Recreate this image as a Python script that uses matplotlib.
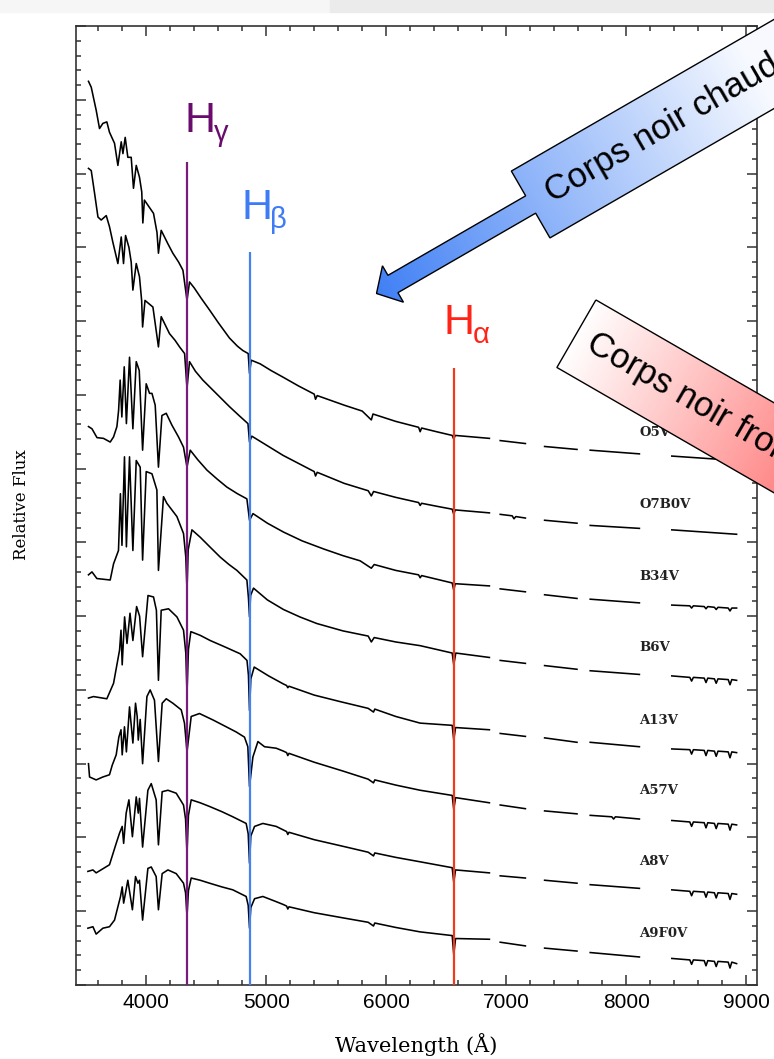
import numpy as np
import matplotlib
matplotlib.use('Agg')
import matplotlib.pyplot as plt
from matplotlib.patches import Polygon, Rectangle
from matplotlib.ticker import MultipleLocator

nan = np.nan

# Stellar spectra, stacked with offsets: (wavelength [A], relative flux).
# nan entries mark the masked telluric bands between the dashes.
O5V = [(3519, 12.25), (3542, 12.17), (3583, 11.86), (3611, 11.61), (3639, 11.68),
       (3672, 11.70), (3694, 11.56), (3736, 11.41), (3764, 11.11), (3792, 11.43),
       (3806, 11.27), (3825, 11.49), (3847, 11.22), (3875, 11.22), (3894, 10.80),
       (3917, 11.11), (3944, 10.95), (3963, 10.75), (3972, 10.33), (3985, 10.64),
       (4061, 10.46), (4090, 10.20), (4102, 9.92), (4125, 10.23), (4180, 10.05),
       (4222, 9.92), (4270, 9.80), (4306, 9.69), (4340, 9.28), (4361, 9.53),
       (4400, 9.45), (4458, 9.31), (4528, 9.15), (4600, 8.98), (4694, 8.77),
       (4760, 8.66), (4806, 8.60), (4850, 8.56), (4861, 8.29), (4875, 8.47),
       (4950, 8.42), (5040, 8.33), (5140, 8.24), (5270, 8.12), (5400, 8.01),
       (5411, 7.94), (5425, 7.99), (5650, 7.86), (5800, 7.78), (5876, 7.66),
       (5890, 7.74), (6080, 7.64), (6270, 7.56), (6283, 7.50), (6295, 7.55),
       (6420, 7.50), (6550, 7.45), (6563, 7.40), (6575, 7.45), (6860, 7.41),
       (6905, nan), (6950, 7.38), (7160, 7.34), (7240, nan), (7320, 7.30),
       (7590, 7.26), (7645, nan), (7700, 7.25), (8110, 7.20), (8245, nan),
       (8380, 7.17), (8920, 7.11)]

O7B0V = [(3519, 11.07), (3542, 11.04), (3570, 10.73), (3598, 10.41), (3625, 10.37),
         (3667, 10.43), (3694, 10.28), (3722, 10.07), (3764, 9.78), (3792, 10.14),
         (3811, 9.78), (3828, 10.16), (3856, 10.00), (3875, 9.80), (3889, 9.42),
         (3917, 9.78), (3944, 9.60), (3962, 9.28), (3970, 8.92), (3990, 9.28),
         (4056, 9.19), (4102, 8.65), (4125, 9.06), (4194, 8.83), (4240, 8.74),
         (4278, 8.65), (4320, 8.56), (4340, 8.09), (4361, 8.45), (4410, 8.32),
         (4472, 8.20), (4583, 8.02), (4694, 7.84), (4780, 7.71), (4848, 7.61),
         (4861, 7.36), (4880, 7.44), (4970, 7.35), (5060, 7.26), (5140, 7.18),
         (5270, 7.07), (5400, 6.96), (5411, 6.90), (5425, 6.95), (5650, 6.80),
         (5850, 6.70), (5876, 6.63), (5895, 6.69), (6080, 6.61), (6270, 6.54),
         (6283, 6.50), (6295, 6.53), (6420, 6.49), (6550, 6.45), (6563, 6.38),
         (6575, 6.44), (6860, 6.40),
         (6905, nan), (6950, 6.38), (7050, 6.36), (7065, 6.32), (7080, 6.35),
         (7160, 6.33), (7240, nan), (7320, 6.30), (7590, 6.26), (7645, nan),
         (7700, 6.23), (8110, 6.19), (8245, nan), (8380, 6.17), (8920, 6.11)]

B34V = [(3519, 7.57), (3548, 7.54), (3590, 7.42), (3644, 7.41), (3700, 7.36),
        (3728, 7.43), (3756, 7.57), (3770, 7.79), (3783, 8.20), (3797, 7.70),
        (3817, 8.38), (3835, 7.61), (3861, 8.51), (3889, 7.54), (3917, 8.45),
        (3942, 8.33), (3970, 7.25), (4000, 8.15), (4028, 8.02), (4048, 8.02),
        (4075, 7.86), (4102, 7.02), (4131, 7.72), (4167, 7.75), (4214, 7.59),
        (4269, 7.43), (4311, 7.29), (4340, 7.02), (4367, 7.25), (4430, 7.12),
        (4506, 6.98), (4590, 6.86), (4672, 6.75), (4760, 6.66), (4839, 6.59),
        (4861, 6.30), (4890, 6.39), (5010, 6.26), (5144, 6.14), (5300, 6.02),
        (5480, 5.91), (5640, 5.82), (5783, 5.75), (5876, 5.65), (5900, 5.70),
        (6080, 5.62), (6270, 5.56), (6283, 5.52), (6295, 5.55), (6550, 5.45),
        (6563, 5.35), (6575, 5.44), (6860, 5.41),
        (6905, nan), (6950, 5.37), (7160, 5.33), (7240, nan), (7320, 5.29),
        (7590, 5.24), (7645, nan), (7700, 5.23), (8110, 5.18), (8245, nan),
        (8380, 5.15), (8530, 5.14), (8545, 5.11), (8560, 5.14), (8650, 5.13),
        (8665, 5.10), (8680, 5.13), (8735, 5.12), (8750, 5.09), (8765, 5.12),
        (8850, 5.11), (8865, 5.07), (8880, 5.11), (8920, 5.11)]

B6V = [(3519, 5.56), (3548, 5.60), (3589, 5.51), (3700, 5.49), (3728, 5.71),
       (3769, 5.89), (3785, 6.66), (3798, 5.96), (3819, 7.16), (3835, 5.94),
       (3861, 7.16), (3889, 5.89), (3917, 7.11), (3950, 7.02), (3970, 5.76),
       (4000, 6.96), (4048, 6.93), (4089, 6.71), (4102, 5.62), (4144, 6.62),
       (4172, 6.53), (4256, 6.35), (4311, 6.12), (4330, 5.80), (4340, 5.35),
       (4350, 5.90), (4381, 6.17), (4450, 6.07), (4530, 5.94), (4617, 5.80),
       (4690, 5.70), (4756, 5.62), (4839, 5.49), (4852, 5.25), (4861, 4.99),
       (4870, 5.28), (4894, 5.38), (5010, 5.22), (5144, 5.09), (5280, 4.99),
       (5422, 4.90), (5640, 4.80), (5850, 4.73), (5876, 4.65), (5900, 4.71),
       (6080, 4.65), (6283, 4.60), (6550, 4.50), (6563, 4.34), (6580, 4.50),
       (6860, 4.44),
       (6905, nan), (6950, 4.40), (7160, 4.36), (7240, nan), (7320, 4.33),
       (7590, 4.28), (7645, nan), (7700, 4.26), (8110, 4.21), (8245, nan),
       (8380, 4.19), (8530, 4.17), (8545, 4.12), (8560, 4.17), (8650, 4.16),
       (8665, 4.10), (8680, 4.16), (8735, 4.15), (8750, 4.09), (8765, 4.15),
       (8850, 4.14), (8865, 4.07), (8880, 4.14), (8920, 4.13)]

A13V = [(3519, 3.89), (3561, 3.91), (3672, 3.88), (3728, 4.09), (3778, 4.54),
        (3790, 4.81), (3800, 4.34), (3820, 4.99), (3840, 4.63), (3865, 5.04),
        (3889, 4.67), (3920, 5.13), (3945, 5.00), (3970, 4.45), (4015, 5.28),
        (4061, 5.26), (4085, 5.08), (4102, 4.13), (4125, 5.08), (4186, 5.10),
        (4256, 4.99), (4311, 4.81), (4330, 4.50), (4340, 3.95), (4352, 4.55),
        (4372, 4.79), (4450, 4.74), (4533, 4.67), (4660, 4.58), (4783, 4.49),
        (4840, 4.40), (4852, 4.20), (4861, 3.72), (4872, 4.15), (4900, 4.31),
        (5020, 4.19), (5144, 4.08), (5170, 4.06), (5180, 4.03), (5190, 4.05),
        (5400, 3.93), (5620, 3.84), (5850, 3.75), (5894, 3.70), (5905, 3.74),
        (6080, 3.64), (6283, 3.55), (6550, 3.52), (6563, 3.32), (6578, 3.49),
        (6860, 3.46), (6905, nan), (6950, 3.41), (7160, 3.37), (7240, nan),
        (7320, 3.35), (7590, 3.29), (7645, nan), (7700, 3.29), (8110, 3.23),
        (8245, nan), (8380, 3.20), (8530, 3.19), (8545, 3.13), (8560, 3.19),
        (8650, 3.18), (8665, 3.11), (8680, 3.18), (8735, 3.17), (8750, 3.10),
        (8765, 3.17), (8850, 3.16), (8865, 3.08), (8880, 3.16), (8920, 3.15)]

A57V = [(3519, 3.00), (3528, 2.82), (3583, 2.78), (3639, 2.82), (3694, 2.85),
        (3717, 2.98), (3750, 3.12), (3772, 3.36), (3790, 3.46), (3800, 3.12),
        (3819, 3.50), (3835, 3.16), (3861, 3.77), (3889, 3.28), (3911, 3.82),
        (3925, 3.64), (3934, 3.32), (3950, 3.60), (3970, 3.00), (4006, 3.91),
        (4033, 4.00), (4069, 3.86), (4102, 3.03), (4133, 3.82), (4167, 3.88),
        (4222, 3.82), (4292, 3.73), (4319, 3.55), (4340, 3.16), (4375, 3.64),
        (4444, 3.68), (4560, 3.59), (4667, 3.50), (4750, 3.43), (4819, 3.36),
        (4847, 3.23), (4861, 2.69), (4889, 3.09), (4931, 3.30), (4986, 3.23),
        (5083, 3.21), (5144, 3.17), (5170, 3.15), (5180, 3.11), (5190, 3.14),
        (5400, 3.02), (5640, 2.90), (5850, 2.79), (5894, 2.74), (5905, 2.78),
        (6080, 2.71), (6283, 2.64), (6550, 2.57), (6563, 2.38), (6578, 2.54),
        (6860, 2.47), (6905, nan), (6950, 2.44), (7160, 2.39), (7240, nan),
        (7320, 2.36), (7590, 2.32), (7645, nan), (7700, 2.30), (7880, 2.28),
        (7895, 2.25), (7910, 2.28), (8110, 2.25), (8245, nan), (8380, 2.23),
        (8530, 2.21), (8545, 2.15), (8560, 2.21), (8650, 2.20), (8665, 2.13),
        (8680, 2.20), (8735, 2.19), (8750, 2.12), (8765, 2.19), (8850, 2.18),
        (8865, 2.10), (8880, 2.18), (8920, 2.17)]

A8V = [(3514, 1.54), (3556, 1.56), (3583, 1.52), (3694, 1.63), (3750, 1.92),
       (3778, 2.06), (3800, 2.15), (3812, 1.92), (3833, 2.33), (3856, 2.51),
       (3885, 2.01), (3917, 2.55), (3934, 2.33), (3944, 2.53), (3970, 1.87),
       (4014, 2.64), (4042, 2.73), (4083, 2.51), (4102, 1.90), (4133, 2.62),
       (4181, 2.64), (4250, 2.60), (4311, 2.44), (4328, 2.25), (4340, 1.78),
       (4352, 2.30), (4375, 2.51), (4450, 2.47), (4528, 2.42), (4630, 2.35),
       (4722, 2.28), (4833, 2.19), (4850, 2.05), (4861, 1.65), (4872, 2.02),
       (4903, 2.15), (4972, 2.19), (5083, 2.15), (5170, 2.08), (5180, 2.04),
       (5190, 2.07), (5400, 1.97), (5640, 1.88), (5850, 1.80), (5894, 1.75),
       (5905, 1.79), (6080, 1.73), (6283, 1.67), (6550, 1.59), (6563, 1.39),
       (6578, 1.56), (6860, 1.52), (6905, nan), (6950, 1.48), (7160, 1.45),
       (7240, nan), (7320, 1.42), (7590, 1.38), (7645, nan), (7700, 1.36),
       (8110, 1.31), (8245, nan), (8380, 1.29), (8530, 1.27), (8545, 1.21),
       (8560, 1.27), (8650, 1.26), (8665, 1.19), (8680, 1.26), (8735, 1.25),
       (8750, 1.18), (8765, 1.25), (8850, 1.24), (8865, 1.16), (8880, 1.24),
       (8920, 1.23)]

A9F0V = [(3514, 0.77), (3556, 0.79), (3583, 0.69), (3639, 0.77), (3694, 0.79),
         (3736, 0.88), (3764, 1.06), (3786, 1.20), (3800, 1.33), (3812, 1.11),
         (3847, 1.42), (3885, 1.02), (3911, 1.47), (3931, 1.38), (3944, 1.42),
         (3970, 0.88), (4014, 1.58), (4042, 1.60), (4083, 1.47), (4102, 1.02),
         (4133, 1.51), (4181, 1.56), (4250, 1.51), (4311, 1.38), (4328, 1.25),
         (4340, 0.93), (4352, 1.28), (4375, 1.45), (4450, 1.42), (4528, 1.38),
         (4630, 1.33), (4722, 1.29), (4833, 1.20), (4850, 1.08), (4861, 0.77),
         (4872, 1.05), (4903, 1.17), (4972, 1.20), (5083, 1.13), (5144, 1.09),
         (5170, 1.07), (5180, 1.03), (5190, 1.06), (5400, 0.98), (5640, 0.91),
         (5850, 0.85), (5894, 0.80), (5905, 0.84), (6080, 0.78), (6283, 0.72),
         (6550, 0.67), (6563, 0.41), (6578, 0.63), (6860, 0.62), (6905, nan),
         (6950, 0.58), (7160, 0.53), (7240, nan), (7320, 0.50), (7590, 0.46),
         (7645, nan), (7700, 0.44), (8110, 0.38), (8245, nan), (8380, 0.36),
         (8530, 0.34), (8545, 0.28), (8560, 0.34), (8650, 0.33), (8665, 0.26),
         (8680, 0.33), (8735, 0.32), (8750, 0.25), (8765, 0.32), (8850, 0.31),
         (8865, 0.23), (8880, 0.31), (8920, 0.29)]

SPECTRA = [O5V, O7B0V, B34V, B6V, A13V, A57V, A8V, A9F0V]
SPECTRAL_TYPES = ['O5V', 'O7B0V', 'B34V', 'B6V', 'A13V', 'A57V', 'A8V', 'A9F0V']
TYPE_LABEL_FLUX = [7.49, 6.52, 5.54, 4.57, 3.59, 2.64, 1.67, 0.70]

# Balmer series markers
BALMER_GREEK = ['γ', 'β', 'α']
BALMER_WAVE = [4340, 4861, 6563]
BALMER_TOP = [11.15, 9.93, 8.36]
BALMER_LINE_COLOR = ['#7a1c7e', '#4482f2', '#ee3b1c']
BALMER_TEXT_COLOR = ['#6a0c6e', '#3d7cf5', '#ff2418']
BALMER_TEXT_POS = [(4318, 11.56), (4792, 10.38), (6478, 8.83)]

W, H = 774, 1059
fig = plt.figure(figsize=(W / 100, H / 100), dpi=100)
ax = fig.add_axes([76 / W, 1 - 985 / H, (757 - 76) / W, (985 - 26) / H])

for spec in SPECTRA:
    wave, flux = np.array(spec).T
    ax.plot(wave, flux, color='black', lw=1.15, solid_joinstyle='round', zorder=2)

for name, y in zip(SPECTRAL_TYPES, TYPE_LABEL_FLUX):
    ax.text(8110, y, name, family='DejaVu Serif', weight='bold', fontsize=9.5,
            ha='left', va='center', color='#222222', zorder=3)

for greek, wl, top, lc, tc, (tx, ty) in zip(BALMER_GREEK, BALMER_WAVE, BALMER_TOP,
                                             BALMER_LINE_COLOR, BALMER_TEXT_COLOR,
                                             BALMER_TEXT_POS):
    ax.plot([wl, wl], [0, top], color=lc, lw=1.6, zorder=4, solid_capstyle='butt')
    ax.text(tx, ty, 'H', color=tc, fontsize=31, family='Liberation Sans',
            ha='left', va='baseline', zorder=4)
    ax.annotate(greek, xy=(tx, ty), xytext=(21, -6.5), textcoords='offset points',
                color=tc, fontsize=21, family='Liberation Sans',
                ha='left', va='baseline', zorder=4)

ax.set_xlim(3415, 9090)
ax.set_ylim(0, 13)
ax.xaxis.set_major_locator(MultipleLocator(1000))
ax.xaxis.set_minor_locator(MultipleLocator(200))
ax.yaxis.set_major_locator(MultipleLocator(1))
ax.yaxis.set_minor_locator(MultipleLocator(0.2))
ax.tick_params(which='both', direction='in', top=True, right=True,
               labelleft=False, width=1.1, color='#333333')
ax.tick_params(which='major', length=7.5)
ax.tick_params(which='minor', length=3.8)
ax.tick_params(axis='x', labelsize=15, pad=6)
for lab in ax.get_xticklabels():
    lab.set_family('Liberation Sans')
for sp in ax.spines.values():
    sp.set_linewidth(1.2)
    sp.set_color('#333333')

fig.text(416.5 / W, 1 - 1045 / H, 'Wavelength (Å)', family='DejaVu Serif',
         fontsize=15, ha='center', va='center')
fig.text(22 / W, 1 - 505 / H, 'Relative Flux', family='DejaVu Serif',
         fontsize=12, rotation=90, ha='center', va='center')

# overlay in pixel coordinates for the slide callouts
ov = fig.add_axes([0, 0, 1, 1])
ov.set_axis_off()
ov.patch.set_alpha(0)

yy, xx = np.mgrid[0:H, 0:W] + 0.5


def gradient_box(anchor, along, corners, c0, c1, span, text, text_u, rot):
    """Draw a rotated callout polygon filled with a linear gradient."""
    ux, uy = along
    nx, ny = -uy, ux
    pts = [(anchor[0] + u * ux + n * nx, anchor[1] + u * uy + n * ny)
           for u, n in corners]
    poly = Polygon(pts, closed=True, facecolor='none', edgecolor='black',
                   lw=1.0, zorder=3)
    ov.add_patch(poly)
    t = ((xx - anchor[0]) * ux + (yy - anchor[1]) * uy) / span
    t = np.clip(t, 0, 1)[..., None]
    rgb = np.array(c0) * (1 - t) + np.array(c1) * t
    im = ov.imshow(rgb, extent=(0, W, H, 0), origin='upper', zorder=2,
                   interpolation='bilinear')
    im.set_clip_path(poly)
    ov.text(anchor[0] + text_u * ux, anchor[1] + text_u * uy, text,
            family='Liberation Sans', fontsize=25, rotation=rot,
            rotation_mode='anchor', ha='left', va='center', zorder=4)


c30, s30 = np.cos(np.radians(30)), np.sin(np.radians(30))

# hot black body: arrow pointing down-left
hot_shape = [(0, 0), (19, 21), (19, 10), (178, 10), (178, 38.6), (700, 38.6),
             (700, -38.6), (178, -38.6), (178, -10), (19, -10), (19, -21)]
gradient_box((376.5, 293.5), (c30, -s30), hot_shape,
             (0.25, 0.50, 0.96), (0.97, 0.98, 1.0), 440,
             'Corps noir chaud', 198, 30)

# cold black body: box heading down-right
cold_shape = [(0, -39), (0, 39), (500, 39), (500, -39)]
gradient_box((576.4, 333.7), (c30, s30), cold_shape,
             (1.0, 1.0, 1.0), (1.0, 0.52, 0.52), 260,
             'Corps noir froid', 15, -30)

ov.add_patch(Rectangle((0, 0), 330, 12, color='#f6f6f6', zorder=1))
ov.add_patch(Rectangle((330, 0), W - 330, 12, color='#ebebeb', zorder=1))
ov.set_xlim(0, W)
ov.set_ylim(H, 0)
ov.set_aspect('auto')

fig.savefig('out.png', dpi=100)
